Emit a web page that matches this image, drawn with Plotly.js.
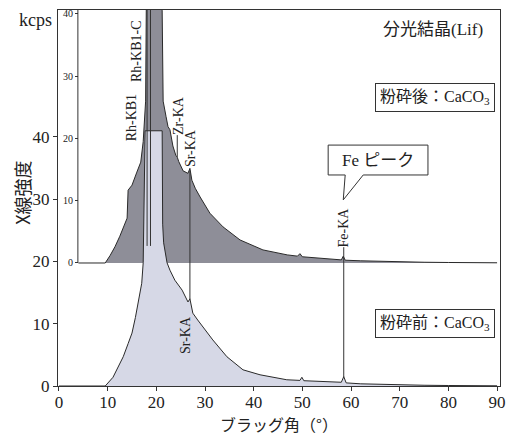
<!DOCTYPE html>
<html>
<head>
<meta charset="utf-8">
<script src="https://cdn.plot.ly/plotly-3.0.1.min.js"></script>
<style>html,body{margin:0;padding:0;background:#fff;}#chart{width:519px;height:436px;}</style>
</head>
<body>
<div id="chart"></div>
<script>
// Bragg angle (deg) and intensity (kcps)
// After pulverization (upper spectrum, own baseline)
const afterAngle = [4, 9.5, 10.5, 11.5, 12.5, 13.5, 14.0, 14.2, 15.0, 16.0, 16.8, 17.3, 17.5, 17.8, 18.0, 20.8, 21.2, 21.4, 22.0, 22.4, 22.8, 23.4, 24.0, 24.3, 24.6, 25.5, 26.5, 26.9, 27.3, 28.0, 29.0, 31.0, 33.7, 37.2, 41.9, 46.9, 49.0, 49.5, 50.0, 53.0, 56.0, 58.0, 58.4, 58.8, 62, 66, 70, 75, 80, 85, 90];
const afterKcps  = [0, 0, 1.2, 2.6, 4.3, 6.2, 7.2, 11.7, 12.5, 14.6, 16.2, 19.5, 22, 26, 48, 48, 40.5, 26, 23.5, 21.9, 21.4, 18.8, 17.3, 17.0, 16.3, 14.8, 14.4, 15.2, 13.3, 12.0, 10.6, 8.0, 5.8, 3.7, 2.1, 1.3, 1.1, 1.5, 1.0, 0.8, 0.55, 0.5, 1.1, 0.45, 0.35, 0.25, 0.2, 0.12, 0.08, 0.05, 0.03];
// Before pulverization (lower spectrum)
const beforeAngle = [0, 9.5, 11.1, 12.0, 13.2, 14.2, 15.0, 15.7, 16.3, 17.0, 17.3, 17.5, 17.7, 21.2, 21.3, 21.5, 22.2, 22.8, 23.8, 25.3, 26.5, 26.9, 27.5, 28.5, 29.6, 31.6, 34.5, 37.8, 41.3, 46.8, 49.5, 49.9, 50.3, 54, 58.0, 58.5, 59.0, 62, 66, 70, 75, 80, 85, 90];
const beforeKcps  = [0, 0, 1.4, 2.8, 4.7, 6.8, 8.5, 11, 13.8, 16.5, 19.8, 28, 41, 41, 26, 23, 19.8, 18.6, 17.0, 15.4, 13.5, 14.0, 11.7, 10.6, 9.5, 7.4, 4.7, 2.6, 1.8, 1.0, 0.9, 1.4, 0.85, 0.7, 0.6, 1.5, 0.5, 0.35, 0.25, 0.18, 0.12, 0.08, 0.05, 0.03];
const xTicks = [0, 10, 20, 30, 40, 50, 60, 70, 80, 90];
const yTicks = [0, 10, 20, 30, 40];

const serif = 'Liberation Serif, Noto Sans CJK JP, serif';
const cjk = 'Noto Sans CJK JP, Liberation Serif, sans-serif';

const traces = [
  {x: afterAngle, y: afterKcps, xaxis: 'x', yaxis: 'y', type: 'scatter', mode: 'lines',
   fill: 'tozeroy', fillcolor: 'rgb(142,142,152)', line: {color: '#2a2a2a', width: 1}, hoverinfo: 'skip'},
  {x: beforeAngle, y: beforeKcps, xaxis: 'x', yaxis: 'y2', type: 'scatter', mode: 'lines',
   fill: 'tozeroy', fillcolor: 'rgb(214,216,230)', line: {color: '#2a2a2a', width: 1}, hoverinfo: 'skip'}
];

function vline(x, y0, y1) {
  return {type: 'line', xref: 'x', yref: 'y2', x0: x, x1: x, y0: y0, y1: y1, line: {color: '#333', width: 1}};
}
function rot(text, x, y) {
  return {text: text, x: x, y: y, xref: 'x', yref: 'y2', showarrow: false, textangle: -90,
          font: {family: serif, size: 14, color: '#222'}, xanchor: 'center', yanchor: 'middle'};
}
function note(text, x, y, size, boxed) {
  const a = {text: text, x: x, y: y, xref: 'paper', yref: 'paper', showarrow: false,
             xanchor: 'center', yanchor: 'middle', font: {family: serif, size: size, color: '#222'}};
  if (boxed) { a.bordercolor = '#333'; a.borderwidth = 1; a.borderpad = 4; a.bgcolor = '#fff'; }
  return a;
}

const layout = {
  width: 519, height: 436,
  margin: {l: 58, r: 19, t: 10, b: 50},
  paper_bgcolor: '#fff', plot_bgcolor: '#fff',
  showlegend: false,
  xaxis: {range: [-0.2, 90.6], tickvals: xTicks, ticks: 'outside', ticklen: 4, tickcolor: '#333',
          ticklabelstandoff: -3,
          showline: true, linecolor: '#333', linewidth: 1, mirror: true, showgrid: false, zeroline: false,
          tickfont: {family: serif, size: 17, color: '#222'},
          title: {text: 'ブラッグ角（°）', font: {family: cjk, size: 16, color: '#222'}, standoff: 5}},
  yaxis: {anchor: 'free', position: 0.045, range: [-19.76, 40.64], tickvals: yTicks, ticks: 'outside',
          ticklen: 3, tickcolor: '#333', showline: false, showgrid: false, zeroline: false,
          tickfont: {family: serif, size: 10, color: '#222'}},
  yaxis2: {overlaying: 'y', side: 'left', anchor: 'x', range: [0, 60.4], tickvals: yTicks, ticks: 'outside',
           ticklen: 4, tickcolor: '#333', showline: true, linecolor: '#333', linewidth: 1, mirror: true,
           showgrid: false, zeroline: false, tickfont: {family: serif, size: 17, color: '#222'}},
  shapes: [
    {type: 'line', xref: 'paper', yref: 'y', x0: 0.045, x1: 0.045, y0: 0, y1: 40.64, line: {color: '#333', width: 1}},
    vline(18.1, 22.5, 60.4),
    vline(18.8, 22.5, 60.4),
    vline(24.3, 36.8, 40.3),
    vline(26.9, 13.9, 34.6),
    vline(58.5, 1.4, 22.3),
    {type: 'path', xref: 'x', yref: 'y2',
     path: 'M55.3,38.7 L75.8,38.7 L75.8,33.9 L62.5,33.9 L58.4,29.9 L58.8,33.9 L55.3,33.9 Z',
     fillcolor: '#fff', line: {color: '#333', width: 1}}
  ],
  annotations: [
    rot('Rh-KB1-C', 15.8, 53.8),
    rot('Rh-KB1', 14.8, 43.0),
    rot('Zr-KA', 24.4, 43.5),
    rot('Sr-KA', 26.9, 38.2),
    rot('Fe-KA', 58.4, 25.5),
    rot('Sr-KA', 26.1, 8.2),
    {text: 'Fe ピーク', x: 65.5, y: 36.3, xref: 'x', yref: 'y2', showarrow: false,
     xanchor: 'center', yanchor: 'middle', font: {family: serif, size: 17, color: '#222'}},
    {text: 'X線強度', x: -0.082, y: 0.513, xref: 'paper', yref: 'paper', showarrow: false, textangle: -90,
     xanchor: 'center', yanchor: 'middle', font: {family: cjk, size: 18, color: '#222'}},
    note('kcps', -0.052, 0.973, 18, false),
    note('分光結晶(Lif)', 0.848, 0.949, 17, false),
    note('粉砕後：CaCO<sub>3</sub>', 0.853, 0.767, 16, true),
    note('粉砕前：CaCO<sub>3</sub>', 0.852, 0.166, 16, true)
  ]
};

Plotly.newPlot('chart', traces, layout, {displayModeBar: false, staticPlot: true});
</script>
</body>
</html>
